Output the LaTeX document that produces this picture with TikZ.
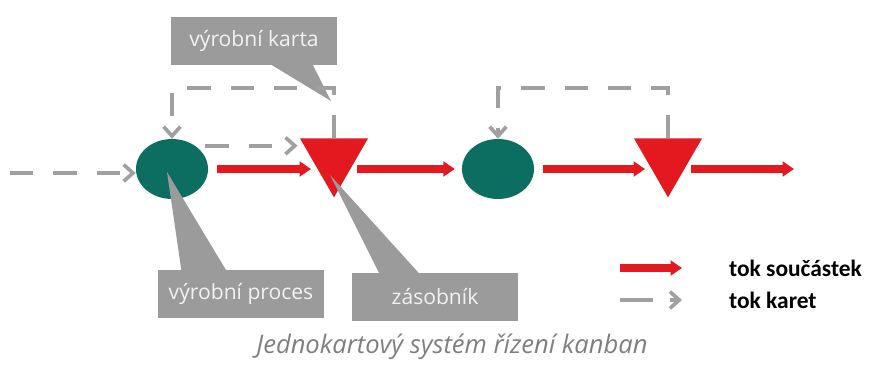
\documentclass[tikz,border=0pt]{standalone}
\usepackage{fontspec}
\setmainfont{Open Sans}
\newfontfamily\legendfont{Carlito}
\usepackage{tikz}
\usetikzlibrary{arrows.meta,positioning,shapes.geometric,calc}
\usepackage{xcolor}
\definecolor{kbTeal}{HTML}{0B6E60}
\definecolor{kbRed}{HTML}{E3191F}
\definecolor{kbGray}{HTML}{9B9B9B}
\definecolor{kbCard}{HTML}{A0A0A0}
\definecolor{kbText}{HTML}{F2F2F2}
\definecolor{kbCaption}{HTML}{7F7F7F}
\tikzset{
    % Shapes of the kanban loop
    process/.style={ellipse,fill=kbTeal,minimum width=2.16cm,minimum height=1.8cm,inner sep=0pt},
    buffer/.style={regular polygon,regular polygon sides=3,shape border rotate=180,fill=kbRed,minimum size=2.36cm,inner sep=0pt},
    callout/.style={rectangle,fill=kbGray,text=kbText,minimum width=5cm,minimum height=1.44cm,font=\fontsize{18}{20}\selectfont},
    pointer/.style={fill=kbGray},
    % Flow styles
    partflow/.style={-{Triangle[length=0.34cm,width=0.44cm]},line width=0.24cm,kbRed},
    cardflow/.style={-{Straight Barb[length=0.28cm,width=0.5cm]},line width=0.11cm,kbCard,dash pattern=on 0.7cm off 0.6cm},
    legendtext/.style={anchor=west,font=\legendfont\bfseries\fontsize{20}{22}\selectfont}
}

\begin{document}
\begin{tikzpicture}[x=0.03cm,y=-0.03cm]
    \useasboundingbox (0,0) rectangle (869,372);

    % Processes and buffers
    \node[process] at (172,169) (proc1) {};
    \node[buffer] at (334,158) (buf1) {};
    \node[process] at (498,169) (proc2) {};
    \node[buffer] at (668,158) (buf2) {};
    \coordinate (inlet) at (10,173);
    \coordinate (outlet) at (794,169);

    % Callouts
    \node[callout] at (254,41) (card) {výrobní karta};
    \node[callout] at (241,294) (procLabel) {výrobní proces};
    \node[callout] at (435,297) (bufLabel) {zásobník};
    \coordinate (cardTip) at (331,101);
    \coordinate (procTip) at (167,172);
    \coordinate (bufTip) at (330,175);
    \fill[pointer] ($(card.south west)+(100,-1)$) -- (cardTip) -- ($(card.south west)+(142,-1)$) -- cycle;
    \fill[pointer] ($(procLabel.north west)+(24,1)$) -- (procTip) -- ($(procLabel.north west)+(69,1)$) -- cycle;
    \fill[pointer] ($(bufLabel.north west)+(28,1)$) -- (bufTip) -- ($(bufLabel.north west)+(68,1)$) -- cycle;

    % Part flow
    \draw[partflow] ([xshift=0.27cm]proc1.east) -- (proc1.east -| buf1.west);
    \draw[partflow] (buf1.east |- proc1.east) -- ([xshift=-0.21cm]proc2.west);
    \draw[partflow] ([xshift=0.27cm]proc2.east) -- (proc2.east -| buf2.west);
    \draw[partflow] (buf2.east |- proc2.east) -- (outlet);

    % Card flow
    \coordinate (loop1) at (250,88);
    \coordinate (loop2) at (580,88);
    \draw[cardflow] (inlet) -- (inlet -| proc1.west);
    \draw[cardflow,shorten <=0.3cm,shorten >=0.06cm] (proc1.45) -- (proc1.45 -| buf1.corner 3);
    \draw[cardflow] (buf1.north) |- (loop1) -| (proc1.north);
    \draw[cardflow] (buf2.north) |- (loop2) -| (proc2.north);

    % Legend
    \node[legendtext] at (725,268) (legParts) {tok součástek};
    \node[legendtext] at (725,300) (legCards) {tok karet};
    \coordinate (legPartsFrom) at (620,268);
    \coordinate (legPartsTo) at (682,268);
    \coordinate (legCardsFrom) at (620,300);
    \coordinate (legCardsTo) at (682,300);
    \draw[partflow] (legPartsFrom) -- (legPartsTo);
    \draw[cardflow,dash pattern=on 1cm off 0.5cm] (legCardsFrom) -- (legCardsTo);

    % Caption
    \node[font=\itshape\fontsize{21.8}{24}\selectfont,text=kbCaption] at (452,347) (caption) {Jednokartový systém řízení kanban};
\end{tikzpicture}
\end{document}
